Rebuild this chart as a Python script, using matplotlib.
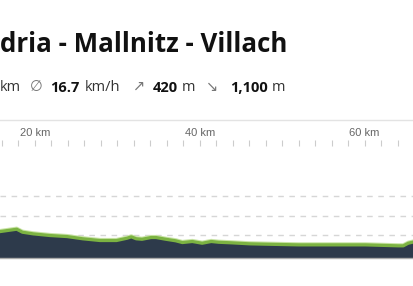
import matplotlib.pyplot as plt

# elevation profile (km, m)
dist_km = [15.0, 15.8, 16.8, 17.8, 18.5, 19.8, 21.8, 23.9, 25.8, 27.9, 29.9,
           31.2, 31.7, 32.3, 33.0, 34.1, 34.7, 35.9, 37.1, 37.9, 39.1, 40.3,
           41.4, 42.3, 43.9, 46.0, 48.0, 52.0, 56.0, 60.1, 64.1, 64.7, 65.3,
           65.8, 66.5]
elev_m = [630, 636, 648, 660, 629, 612, 595, 584, 561, 543, 543,
          567, 581, 561, 556, 574, 574, 556, 540, 522, 533, 515,
          533, 525, 519, 509, 505, 498, 498, 498, 488, 488, 515,
          525, 535]
grid_m = [600, 800, 1000]
major_km = [20, 40, 60]
minor_km = list(range(16, 67, 2))

title = "dria - Mallnitz - Villach"
# (text, bold, colour, x px)
stats = [("km", False, "#333333", 0), ("\u2205", False, "#777777", 30),
         ("16.7", True, "#111111", 50), ("km/h", False, "#333333", 85),
         ("\u2197", False, "#777777", 133), ("420", True, "#111111", 153),
         ("m", False, "#333333", 182), ("\u2198", False, "#777777", 206),
         ("1,100", True, "#111111", 230), ("m", False, "#333333", 272)]

W, H = 414, 286
fig = plt.figure(figsize=(W / 100, H / 100), dpi=100)
fams = ["Open Sans", "DejaVu Sans"]

fig.text(0 / W, 1 - 45 / H, title, fontsize=18.6, fontweight="bold",
         family=fams, color="#111111", va="center", ha="left")
for txt, bold, col, xp in stats:
    fig.text(xp / W, 1 - 87.5 / H, txt, fontsize=10.5,
             fontweight="bold" if bold else "normal",
             family=fams, color=col, va="center", ha="left")

fig.add_artist(plt.Line2D([0, 1], [1 - 119.5 / H] * 2, color="#e3e3e3", lw=1))

ax = fig.add_axes([0, (H - 258) / H, 1, 112 / H])
ax.fill_between(dist_km, elev_m, 300, color="#2d3a4b", lw=0)
ax.plot(dist_km, [e + 10 for e in elev_m], color="#c9e4a6", lw=2.4,
        solid_capstyle="butt")
ax.plot(dist_km, elev_m, color="#7cb342", lw=2.3, solid_capstyle="butt")

ax.set_xlim(15.77, 65.77)
ax.set_ylim(362, 1522)
ax.set_yticks(grid_m)
ax.yaxis.grid(True, color="#d6d6d6", linestyle=(0, (4, 4)), lw=1)
ax.tick_params(axis="y", left=False, labelleft=False)
ax.set_axisbelow(True)

ax.xaxis.tick_top()
ax.set_xticks(major_km)
ax.set_xticklabels([f"{k} km" for k in major_km])
ax.set_xticks(minor_km, minor=True)
ax.tick_params(axis="x", which="both", length=4, width=0.8, color="#cccccc",
               direction="out", pad=2, labelsize=8, labelcolor="#666666")
for lab in ax.get_xticklabels():
    lab.set_family(["Liberation Sans", "DejaVu Sans"])

for s in ["top", "left", "right"]:
    ax.spines[s].set_visible(False)
ax.spines["bottom"].set_color("#aaaaaa")
ax.spines["bottom"].set_linewidth(1)

fig.savefig("out.png", dpi=100)
